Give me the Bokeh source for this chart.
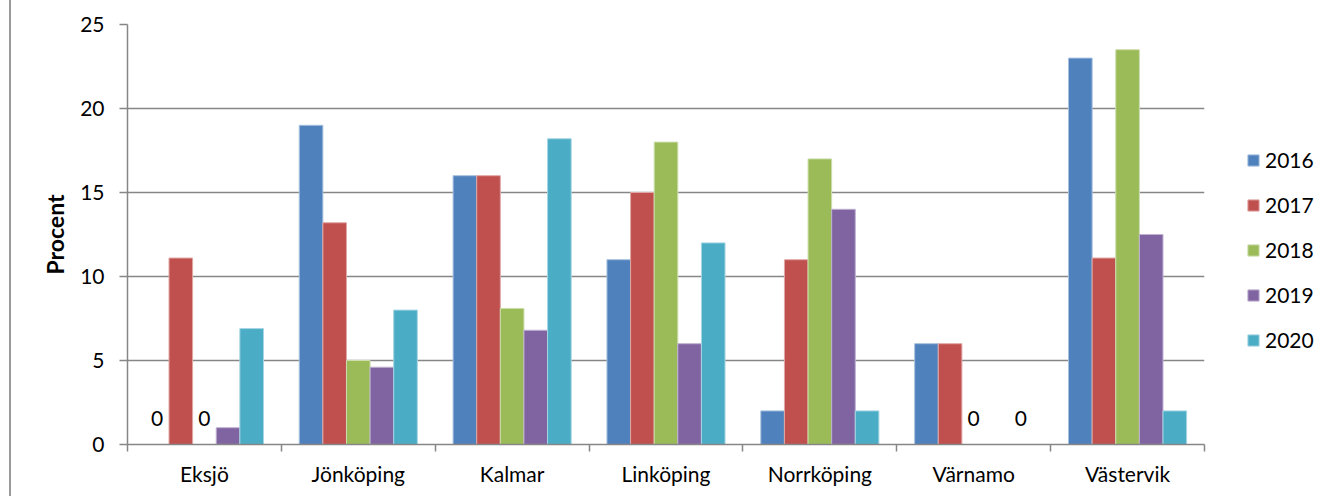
import math
from bokeh.plotting import figure
from bokeh.models import ColumnDataSource, FixedTicker, Legend, LegendItem
from bokeh.core.properties import value
from bokeh.embed import file_html
from bokeh.resources import INLINE

# Andel (procent) per ort och år
orter = ["Eksjö", "Jönköping", "Kalmar", "Linköping", "Norrköping", "Värnamo", "Västervik"]
years = ["2016", "2017", "2018", "2019", "2020"]
v2016 = [0, 19, 16, 11, 2, 6, 23]
v2017 = [11.1, 13.2, 16, 15, 11, 6, 11.1]
v2018 = [0, 5, 8.1, 18, 17, 0, 23.5]
v2019 = [1, 4.6, 6.8, 6, 14, float("nan"), 12.5]
v2020 = [6.9, 8, 18.2, 12, 2, 0, 2]
series = [v2016, v2017, v2018, v2019, v2020]
colors = ["#4F81BD", "#C0504D", "#9BBB59", "#8064A2", "#4BACC6"]
edges = ["#A7C0DE", "#DFA8A6", "#CDDDAC", "#BFB1D0", "#A5D5E2"]
y_ticks = [0, 5, 10, 15, 20, 25]

FONT = "Lato"
GRID = "#868686"
bar_w = 0.1535
offsets = [(i - 2) * bar_w for i in range(5)]

p = figure(frame_width=1077, frame_height=420, x_range=(0, 7), y_range=(0, 25),
           output_backend="svg", toolbar_location=None,
           min_border_left=116, min_border_right=0,
           min_border_top=24, min_border_bottom=52)
p.styles = {"margin-left": "9px", "border-left": "2px solid #9A9A9A"}
p.outline_line_color = None
p.background_fill_color = "white"
p.border_fill_color = "white"

# grid
p.xgrid.visible = False
p.ygrid.ticker = FixedTicker(ticks=y_ticks)
p.ygrid.grid_line_color = GRID
p.ygrid.grid_line_width = 1.5

# y axis
p.yaxis.ticker = FixedTicker(ticks=y_ticks)
p.yaxis.axis_label = "Procent"
p.yaxis.axis_label_text_font = FONT
p.yaxis.axis_label_text_font_style = "bold"
p.yaxis.axis_label_text_font_size = "23px"
p.yaxis.axis_label_text_color = "black"
p.yaxis.axis_label_standoff = 8
p.yaxis.major_label_text_font = FONT
p.yaxis.major_label_text_font_size = "21px"
p.yaxis.major_label_text_color = "black"
p.yaxis.major_label_standoff = 15
p.yaxis.major_tick_out = 8
p.yaxis.major_tick_in = 0
p.yaxis.minor_tick_line_color = None
p.yaxis.axis_line_color = GRID
p.yaxis.axis_line_width = 1.5
p.yaxis.major_tick_line_color = GRID
p.yaxis.major_tick_line_width = 1.5

# x axis: labels at the group centres, tick marks at the group boundaries
centers = [i + 0.5 for i in range(len(orter))]
p.xaxis.ticker = FixedTicker(ticks=centers, minor_ticks=list(range(len(orter) + 1)))
p.xaxis.major_label_overrides = {c: name for c, name in zip(centers, orter)}
p.xaxis.major_label_text_font = FONT
p.xaxis.major_label_text_font_size = "21px"
p.xaxis.major_label_text_color = "black"
p.xaxis.major_label_standoff = 9
p.xaxis.major_tick_line_color = None
p.xaxis.major_tick_out = 0
p.xaxis.major_tick_in = 0
p.xaxis.minor_tick_out = 7
p.xaxis.minor_tick_in = 0
p.xaxis.minor_tick_line_color = GRID
p.xaxis.minor_tick_line_width = 1.5
p.xaxis.axis_line_color = GRID
p.xaxis.axis_line_width = 1.5

items = []
zero_x, zero_y = [], []
for k, (vals, col, edge, off) in enumerate(zip(series, colors, edges, offsets)):
    xs = [c + off for c in centers]
    keep = [i for i, v in enumerate(vals) if not math.isnan(v) and v > 0]
    src = ColumnDataSource(dict(x=[xs[i] for i in keep], top=[vals[i] for i in keep]))
    r = p.vbar(x="x", top="top", bottom=0, width=bar_w, source=src,
               fill_color=col, line_color=edge, line_width=1)
    items.append(LegendItem(label=years[k], renderers=[r]))
    for i, v in enumerate(vals):
        if v == 0:
            zero_x.append(xs[i])
            zero_y.append(v)

# value labels for zero bars
zsrc = ColumnDataSource(dict(x=zero_x, y=zero_y, t=["0"] * len(zero_x)))
p.text(x="x", y="y", text="t", source=zsrc, text_align="center",
       text_baseline="alphabetic", y_offset=-26,
       text_font=value(FONT), text_font_size="21px", text_color="black")

legend = Legend(items=items, location=(42, 92))
legend.border_line_color = None
legend.background_fill_alpha = 0
legend.padding = 0
legend.margin = 0
legend.glyph_width = 14
legend.glyph_height = 14
legend.label_height = 20
legend.spacing = 20
legend.label_standoff = 5
legend.label_text_font = FONT
legend.label_text_font_size = "21px"
legend.label_text_color = "black"
legend.label_text_baseline = "middle"
p.add_layout(legend, "right")

open("out.html", "w").write(file_html(p, INLINE))
